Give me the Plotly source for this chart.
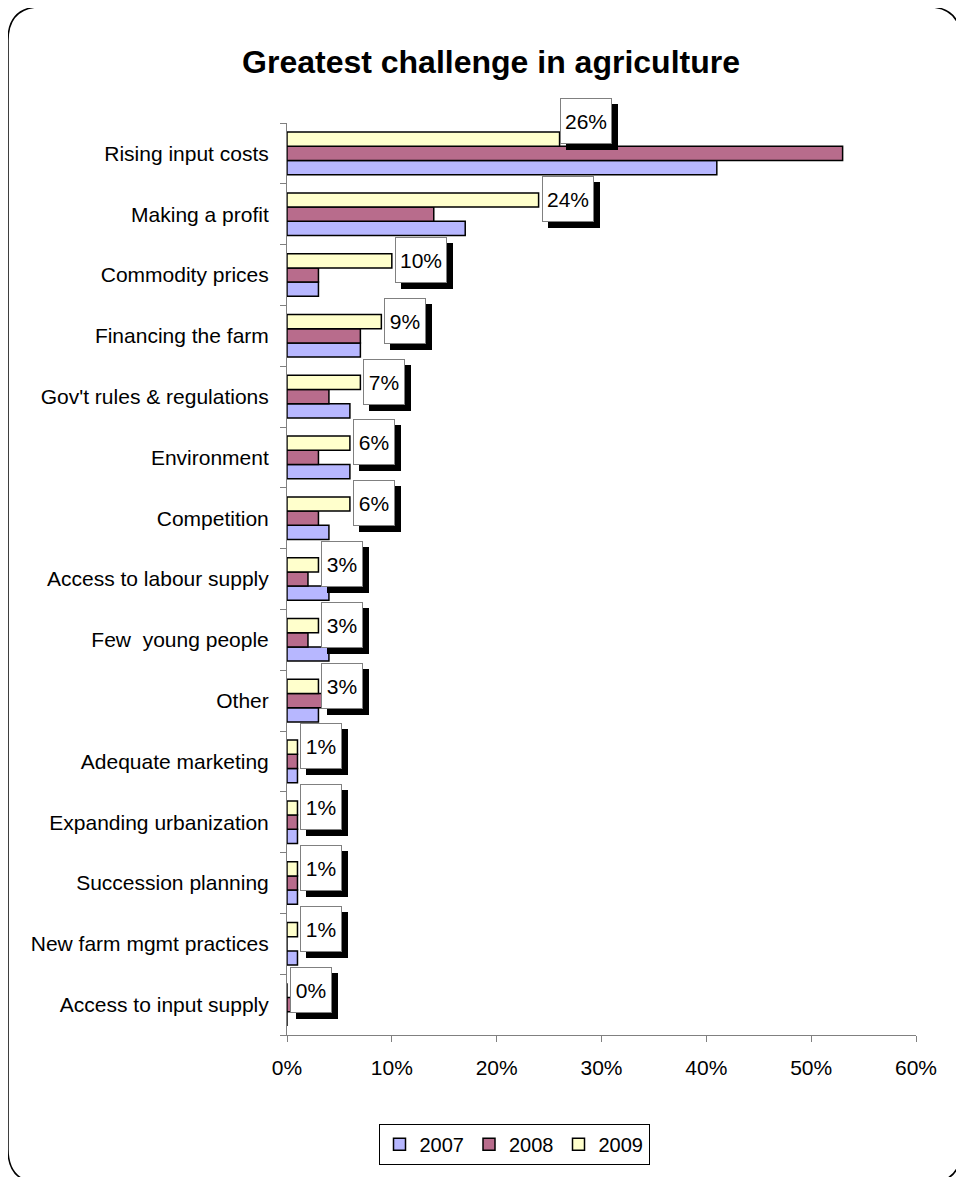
import plotly.graph_objects as go

# Categories listed top to bottom as in the chart
categories = [
    "Rising input costs", "Making a profit", "Commodity prices", "Financing the farm",
    "Gov't rules & regulations", "Environment", "Competition", "Access to labour supply",
    "Few  young people", "Other", "Adequate marketing", "Expanding urbanization",
    "Succession planning", "New farm mgmt practices", "Access to input supply",
]
values_2007 = [41, 17, 3, 7, 6, 6, 4, 4, 4, 3, 1, 1, 1, 1, 0]
values_2008 = [53, 14, 3, 7, 4, 3, 3, 2, 2, 3.4, 1, 1, 1, 0, 0.4]
values_2009 = [26, 24, 10, 9, 7, 6, 6, 3, 3, 3, 1, 1, 1, 1, 0]
x_ticks = [0, 10, 20, 30, 40, 50, 60]

OFF = 8  # page body margin
W, H = 964 - OFF, 1177 - OFF
L, R, T, B = 287 - OFF, 916 - OFF, 123 - OFF, 1041 - OFF
FONT = "Liberation Sans, Arial, sans-serif"

def px(xp):
    return (xp - OFF - L) / (R - L)

def py(yp):
    return (B - (yp - OFF)) / (B - T)

order = categories[::-1]  # bottom-to-top for plotly category axis

fig = go.Figure()
series = [
    ("2007", values_2007, "#B7B7FF"),
    ("2008", values_2008, "#B86C8C"),
    ("2009", values_2009, "#FFFFCC"),
]
for name, vals, col in series:
    fig.add_trace(go.Bar(
        y=categories, x=vals, name=name, orientation="h",
        marker=dict(color=col, line=dict(color="black", width=1.5)),
        hoverinfo="x+y+name",
    ))

annotations = []
for i, (cat, v) in enumerate(zip(categories, values_2009)):
    label = f"{round(v)}%"
    ys = 32 if i == 0 else 15
    xs = 0 if i == 0 else 3
    w = 38 if len(label) == 2 else 48
    common = dict(x=v, y=cat, xref="x", yref="y", xanchor="left", yanchor="middle",
                  showarrow=False, width=w, height=42, borderpad=1, align="center",
                  font=dict(family=FONT, size=21, color="black"))
    annotations.append(dict(common, text=" ", xshift=xs + 6, yshift=ys - 6,
                            bgcolor="black", bordercolor="black", borderwidth=1))
    annotations.append(dict(common, text=label, xshift=xs, yshift=ys,
                            bgcolor="white", bordercolor="#808080", borderwidth=1))

# rounded outer border
x0, y0, x1, y1 = px(8), py(6), px(961), py(1190)
rx, ry = 34 / (R - L), 34 / (B - T)
path = (f"M {x0+rx},{y0} L {x1-rx},{y0} Q {x1},{y0} {x1},{y0-ry} "
        f"L {x1},{y1+ry} Q {x1},{y1} {x1-rx},{y1} L {x0+rx},{y1} "
        f"Q {x0},{y1} {x0},{y1+ry} L {x0},{y0-ry} Q {x0},{y0} {x0+rx},{y0} Z")

fig.update_layout(
    width=W, height=H,
    margin=dict(l=L, r=W - R, t=T, b=H - B, pad=0),
    paper_bgcolor="white", plot_bgcolor="white",
    barmode="group", bargap=0.3, bargroupgap=0,
    font=dict(family=FONT, size=21, color="black"),
    title=dict(text="<b>Greatest challenge in agriculture</b>",
               font=dict(family=FONT, size=32, color="black"),
               x=px(491), xref="paper", xanchor="center",
               y=1 - (62 - OFF) / H, yanchor="middle"),
    xaxis=dict(range=[0, 60], tickvals=x_ticks, ticktext=[f"{t}%" for t in x_ticks],
               showgrid=False, zeroline=False, showline=True, linecolor="#808080",
               linewidth=1, ticks="outside", ticklen=6, tickcolor="#808080",
               tickfont=dict(family=FONT, size=21), ticklabelstandoff=8),
    yaxis=dict(categoryorder="array", categoryarray=order, range=[-0.5, 14.5],
               autorange=False, showgrid=False,
               showline=True, linecolor="#808080", linewidth=1,
               ticks="outside", tickson="boundaries", ticklen=6, tickcolor="#808080",
               tickfont=dict(family=FONT, size=21), ticklabelstandoff=13),
    legend=dict(orientation="h", x=px(514), xanchor="center", y=py(1151), yanchor="middle",
                bordercolor="black", borderwidth=1, bgcolor="white",
                font=dict(family=FONT, size=20), itemwidth=30, tracegroupgap=0),
    annotations=annotations,
    shapes=[dict(type="path", path=path, xref="paper", yref="paper",
                 line=dict(color="black", width=1.5), fillcolor="rgba(0,0,0,0)", layer="below")],
    showlegend=True,
)

fig.write_html("out.html")
